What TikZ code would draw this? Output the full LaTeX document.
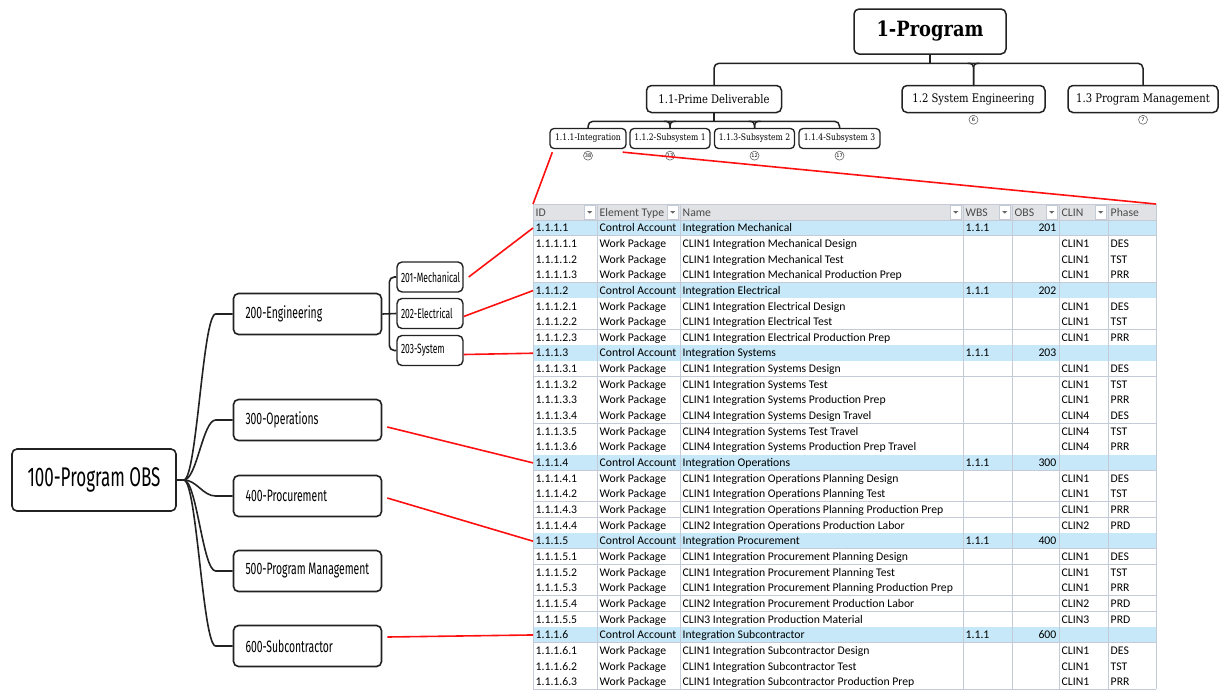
\documentclass[tikz,border=0pt]{standalone}
\usepackage{fontspec}
\usetikzlibrary{calc}
\newfontfamily\wbsfont[FakeStretch=0.85]{DejaVu Serif}
\newfontfamily\obsfont[FakeStretch=0.63]{Fira Sans}
\newfontfamily\tabfont{Carlito}
\newfontfamily\numfont{DejaVu Sans}
\definecolor{inkline}{HTML}{222222}
\definecolor{ca}{HTML}{C6E8F8}
\definecolor{wp}{HTML}{FFFFFF}
\definecolor{gridline}{HTML}{C4CAD6}
\definecolor{hdrfill}{HTML}{E0E2E5}
\definecolor{hdrtext}{HTML}{4A4A4A}
\definecolor{linkred}{HTML}{FF1010}
% left-aligned label of fixed width inside an OBS box
\newcommand\lbox[2]{\makebox[#1][l]{#2}}
\begin{document}
\begin{tikzpicture}[x=1pt,y=-1pt,
  tree/.style={draw=inkline, line width=1.5pt},
  wbs/.style={draw=inkline, line width=1.5pt, rounded corners=5pt, fill=white, inner sep=0pt, align=center},
  wbsA/.style={wbs, font=\wbsfont\bfseries\fontsize{21}{24}\selectfont, minimum width=152pt, minimum height=45pt},
  wbsB/.style={wbs, font=\wbsfont\fontsize{11.8}{14}\selectfont, minimum height=27pt},
  wbsC/.style={wbs, line width=1.3pt, rounded corners=4pt, font=\wbsfont\fontsize{9}{11}\selectfont, minimum height=20pt},
  cnt/.style={draw=black!60, line width=0.6pt, circle, fill=white, inner sep=0pt, minimum size=9pt, font=\numfont\fontsize{5}{5}\selectfont},
  obsline/.style={draw=inkline, line width=1.6pt},
  obs/.style={draw=inkline, line width=1.6pt, rounded corners=5pt, fill=white},
  obsA/.style={obs, font=\obsfont\fontsize{27}{31}\selectfont, minimum width=164pt, minimum height=62pt, inner sep=0pt},
  obsB/.style={obs, font=\obsfont\fontsize{16.5}{19}\selectfont, inner xsep=12pt, inner ysep=0pt, minimum height=41pt},
  obsC/.style={obs, line width=1.4pt, font=\obsfont\fontsize{13.5}{16}\selectfont, inner xsep=4pt, inner ysep=0pt, minimum height=30pt},
  redline/.style={draw=linkred, line width=1.6pt},
  cell/.style={anchor=base west, inner xsep=2.5pt, inner ysep=0pt, font=\tabfont\fontsize{11.7}{13}\selectfont, text=black},
]
\useasboundingbox (0,0) rectangle (1220,689);

% ---------------- WBS tree ----------------
\node[wbsA] (prog) at (930,31.5) {1-Program};
\node[wbsB, minimum width=135pt] (pd) at (714,99) {1.1-Prime Deliverable};
\node[wbsB, minimum width=143pt] (se) at (973.5,99) {1.2 System Engineering};
\node[wbsB, minimum width=150pt] (pm) at (1143,99) {1.3 Program Management};

\coordinate (barA) at ($(prog.south)+(0,8.5)$);
\draw[tree] (prog.south) -- (barA);
\draw[tree, rounded corners=5pt] (pd.north) |- (barA) -| (pm.north);
\draw[tree, rounded corners=4pt] ($(se.north |- barA)+(-6,0)$) -| (se.north);
\draw[tree, rounded corners=4pt] ($(se.north |- barA)+(6,0)$) -| (se.north);

\node[wbsC, minimum width=76pt] (int) at (588,138.5) {1.1.1-Integration};
\node[wbsC, minimum width=80pt] (s1) at (670,138.5) {1.1.2-Subsystem 1};
\node[wbsC, minimum width=80pt] (s2) at (754.5,138.5) {1.1.3-Subsystem 2};
\node[wbsC, minimum width=81pt] (s3) at (839.5,138.5) {1.1.4-Subsystem 3};

\coordinate (barB) at ($(pd.south)+(0,8)$);
\draw[tree] (pd.south) -- (barB);
\draw[tree, rounded corners=5pt] (int.north) |- (barB) -| (s3.north);
\foreach \s in {s1,s2}{
  \draw[tree, rounded corners=4pt] ($(\s.north |- barB)+(-6,0)$) -| (\s.north);
  \draw[tree, rounded corners=4pt] ($(\s.north |- barB)+(6,0)$) -| (\s.north);
}

\node[cnt] (n-int) at ($(int.south)+(0,6.5)$) {38};
\node[cnt] (n-s1) at ($(s1.south)+(0,6.5)$) {13};
\node[cnt] (n-s2) at ($(s2.south)+(0,6.5)$) {12};
\node[cnt] (n-s3) at ($(s3.south)+(0,6.5)$) {17};
\node[cnt] (n-se) at ($(se.south)+(0,6.5)$) {6};
\node[cnt] (n-pm) at ($(pm.south)+(0,6.5)$) {7};

% ---------------- Control account table ----------------
\fill[hdrfill] (533,204) rectangle (1156,220);
\foreach \x/\t in {533/ID,597/Element Type,680/Name,963/WBS,1012/OBS,1059/CLIN,1108/Phase}
  \node[cell, text=hdrtext] at (\x,216) {\t};

\foreach \f/\id/\ty/\nm/\wb/\ob/\cl/\ph [count=\i from 0] in {
  ca/1.1.1.1/Control Account/Integration Mechanical/1.1.1/201/{}/{},
  wp/1.1.1.1.1/Work Package/CLIN1 Integration Mechanical Design/{}/{}/CLIN1/DES,
  wp/1.1.1.1.2/Work Package/CLIN1 Integration Mechanical Test/{}/{}/CLIN1/TST,
  wp/1.1.1.1.3/Work Package/CLIN1 Integration Mechanical Production Prep/{}/{}/CLIN1/PRR,
  ca/1.1.1.2/Control Account/Integration Electrical/1.1.1/202/{}/{},
  wp/1.1.1.2.1/Work Package/CLIN1 Integration Electrical Design/{}/{}/CLIN1/DES,
  wp/1.1.1.2.2/Work Package/CLIN1 Integration Electrical Test/{}/{}/CLIN1/TST,
  wp/1.1.1.2.3/Work Package/CLIN1 Integration Electrical Production Prep/{}/{}/CLIN1/PRR,
  ca/1.1.1.3/Control Account/Integration Systems/1.1.1/203/{}/{},
  wp/1.1.1.3.1/Work Package/CLIN1 Integration Systems Design/{}/{}/CLIN1/DES,
  wp/1.1.1.3.2/Work Package/CLIN1 Integration Systems Test/{}/{}/CLIN1/TST,
  wp/1.1.1.3.3/Work Package/CLIN1 Integration Systems Production Prep/{}/{}/CLIN1/PRR,
  wp/1.1.1.3.4/Work Package/CLIN4 Integration Systems Design Travel/{}/{}/CLIN4/DES,
  wp/1.1.1.3.5/Work Package/CLIN4 Integration Systems Test Travel/{}/{}/CLIN4/TST,
  wp/1.1.1.3.6/Work Package/CLIN4 Integration Systems Production Prep Travel/{}/{}/CLIN4/PRR,
  ca/1.1.1.4/Control Account/Integration Operations/1.1.1/300/{}/{},
  wp/1.1.1.4.1/Work Package/CLIN1 Integration Operations Planning Design/{}/{}/CLIN1/DES,
  wp/1.1.1.4.2/Work Package/CLIN1 Integration Operations Planning Test/{}/{}/CLIN1/TST,
  wp/1.1.1.4.3/Work Package/CLIN1 Integration Operations Planning Production Prep/{}/{}/CLIN1/PRR,
  wp/1.1.1.4.4/Work Package/CLIN2 Integration Operations Production Labor/{}/{}/CLIN2/PRD,
  ca/1.1.1.5/Control Account/Integration Procurement/1.1.1/400/{}/{},
  wp/1.1.1.5.1/Work Package/CLIN1 Integration Procurement Planning Design/{}/{}/CLIN1/DES,
  wp/1.1.1.5.2/Work Package/CLIN1 Integration Procurement Planning Test/{}/{}/CLIN1/TST,
  wp/1.1.1.5.3/Work Package/CLIN1 Integration Procurement Planning Production Prep/{}/{}/CLIN1/PRR,
  wp/1.1.1.5.4/Work Package/CLIN2 Integration Procurement Production Labor/{}/{}/CLIN2/PRD,
  wp/1.1.1.5.5/Work Package/CLIN3 Integration Production Material/{}/{}/CLIN3/PRD,
  ca/1.1.1.6/Control Account/Integration Subcontractor/1.1.1/600/{}/{},
  wp/1.1.1.6.1/Work Package/CLIN1 Integration Subcontractor Design/{}/{}/CLIN1/DES,
  wp/1.1.1.6.2/Work Package/CLIN1 Integration Subcontractor Test/{}/{}/CLIN1/TST,
  wp/1.1.1.6.3/Work Package/CLIN1 Integration Subcontractor Production Prep/{}/{}/CLIN1/PRR}{
  \pgfmathsetmacro\yt{220+15.66*\i}
  \pgfmathsetmacro\yb{\yt+15.66}
  \pgfmathsetmacro\yl{\yt+11.7}
  \fill[\f] (533,\yt) rectangle (1156,\yb);
  \draw[gridline, line width=0.8pt] (533,\yb) -- (1156,\yb);
  \node[cell] (row\i) at (533,\yl) {\id};
  \node[cell] at (597,\yl) {\ty};
  \node[cell] at (680,\yl) {\nm};
  \node[cell] at (963,\yl) {\wb};
  \node[cell, anchor=base east] at (1059,\yl) {\ob};
  \node[cell] at (1059,\yl) {\cl};
  \node[cell] at (1108,\yl) {\ph};
}
\foreach \x in {533,597,680,963,1012,1059,1108,1156}
  \draw[gridline, line width=0.8pt] (\x,204) -- (\x,689);
\draw[gridline, line width=0.8pt] (533,204) -- (1156,204);
\draw[gridline, line width=0.8pt] (533,220) -- (1156,220);
\foreach \x in {597,680,963,1012,1059,1108}{
  \draw[gridline, fill=white, line width=0.6pt] (\x-13,205.5) rectangle (\x-1.5,219);
  \fill[black!60] (\x-9.8,211) -- (\x-4.6,211) -- (\x-7.2,213.6) -- cycle;
}
\coordinate (tNW) at (533,204);
\coordinate (tNE) at (1156,204);

% ---------------- OBS tree ----------------
\node[obsA] (obs) at (94,480) {100-Program OBS};
\node[obsB] (o200) at (307.5,314) {\lbox{124pt}{200-Engineering}};
\node[obsB] (o300) at (307.5,420) {\lbox{124pt}{300-Operations}};
\node[obsB] (o400) at (307.5,496) {\lbox{124pt}{400-Procurement}};
\node[obsB] (o500) at (307.5,571) {\lbox{124pt}{500-Program Management}};
\node[obsB] (o600) at (307.5,646) {\lbox{124pt}{600-Subcontractor}};

\coordinate (hub) at ($(obs.east)+(7,0)$);
\draw[obsline] (obs.east) -- (hub);
\foreach \c in {o200,o300,o400,o500,o600}
  \draw[obsline] (hub) .. controls +(13,0) and +(-13,0) .. ($(\c.west)+(-17,0)$) -- (\c.west);

\node[obsC] (o201) at (430,277) {\lbox{58pt}{201-Mechanical}};
\node[obsC] (o202) at (430,313.5) {\lbox{58pt}{202-Electrical}};
\node[obsC] (o203) at (430,350.5) {\lbox{58pt}{203-System}};
\draw[obsline] (o200.east) -- (o202.west);
\draw[obsline, rounded corners=5pt] (o201.west) -- ++(-7,0) |- (o203.west);

% ---------------- Links from OBS units to control accounts ----------------
\draw[redline] ($(int.south west)+(3,3)$) -- (tNW);
\draw[redline] ($(int.south east)+(-4,3)$) -- (tNE);
\draw[redline] ($(o201.east)+(5,0)$) -- (row0.west);
\draw[redline] ($(o202.east)+(0,3)$) -- (row4.west);
\draw[redline] ($(o203.east)+(0,4)$) -- (row8.west);
\draw[redline] ($(o300.east)+(5,7)$) -- (row15.west);
\draw[redline] ($(o400.east)+(5,2)$) -- (row20.west);
\draw[redline] ($(o600.east)+(5,-9)$) -- (row26.west);
\end{tikzpicture}
\end{document}
